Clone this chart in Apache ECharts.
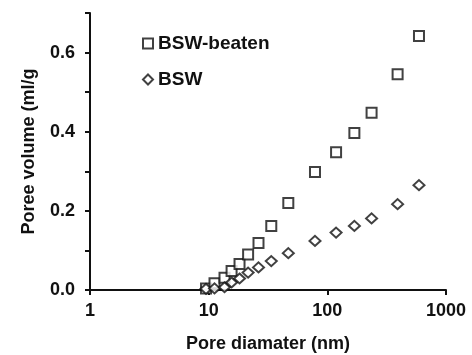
<!DOCTYPE html>
<html>
<head>
<meta charset="utf-8">
<script src="https://cdn.jsdelivr.net/npm/echarts@6/dist/echarts.min.js"></script>
<style>
  html, body { margin: 0; padding: 0; background: #fff; }
  #chart { width: 472px; height: 355px; }
</style>
</head>
<body>
<div id="chart"></div>
<script>
// pore diameter (nm), log scale
var diameters = [9.5, 11.2, 13.6, 15.6, 18.2, 21.5, 26.3, 33.7, 46.9, 78.7, 118.5, 169, 236, 391, 592];
// pore volume (ml/g)
var beaten = [0.004, 0.017, 0.031, 0.048, 0.066, 0.090, 0.119, 0.162, 0.220, 0.298, 0.348, 0.397, 0.448, 0.545, 0.642];
var bsw = [0.003, 0.004, 0.007, 0.019, 0.029, 0.044, 0.057, 0.073, 0.093, 0.124, 0.145, 0.162, 0.181, 0.217, 0.265];
var seriesNames = ['BSW-beaten', 'BSW'];

function pairs(xs, ys) {
  return xs.map(function (x, i) { return [x, ys[i]]; });
}

var font = 'Liberation Sans, Arial, sans-serif';
var ink = '#111';

var myChart = echarts.init(document.getElementById('chart'));
var option = {
  animation: false,
  backgroundColor: '#fff',
  grid: { left: 90, right: 26, top: 13, bottom: 65, outerBoundsMode: 'none', containLabel: false },
  legend: {
    orient: 'vertical',
    left: 137,
    top: 29,
    itemGap: 17,
    itemWidth: 10,
    itemHeight: 10,
    data: seriesNames,
    textStyle: { color: ink, fontFamily: font, fontSize: 19, fontWeight: 'bold', lineHeight: 18 }
  },
  xAxis: {
    type: 'log',
    logBase: 10,
    min: 1,
    max: 1000,
    name: 'Pore diamater (nm)',
    nameLocation: 'middle',
    nameGap: 45,
    nameTextStyle: { color: ink, fontFamily: font, fontSize: 18, fontWeight: 'bold' },
    axisLine: { lineStyle: { color: ink, width: 2 } },
    axisTick: { inside: false, length: 5, lineStyle: { width: 2 } },
    axisLabel: {
      color: ink, fontFamily: font, fontSize: 18, fontWeight: 'bold', margin: 12,
      formatter: function (v) { return String(Math.round(v)); }
    },
    splitLine: { show: false },
    minorTick: { show: false }
  },
  yAxis: {
    type: 'value',
    min: 0,
    max: 0.7,
    interval: 0.1,
    name: 'Poree volume (ml/g',
    nameLocation: 'middle',
    nameGap: 52,
    nameTextStyle: { color: ink, fontFamily: font, fontSize: 18, fontWeight: 'bold' },
    axisLine: { show: true, lineStyle: { color: ink, width: 2 } },
    axisTick: { show: true, length: 5, lineStyle: { width: 2 } },
    axisLabel: {
      color: ink, fontFamily: font, fontSize: 18, fontWeight: 'bold', margin: 15,
      formatter: function (v) {
        var k = Math.round(v * 10);
        return (k % 2 === 0 && k < 7) ? v.toFixed(1) : '';
      }
    },
    splitLine: { show: false }
  },
  series: [
    {
      name: seriesNames[0],
      type: 'scatter',
      symbol: 'emptyRect',
      symbolSize: 10,
      itemStyle: { color: ink, borderColor: ink, borderWidth: 1.8 },
      data: pairs(diameters, beaten)
    },
    {
      name: seriesNames[1],
      type: 'scatter',
      symbol: 'emptyDiamond',
      symbolSize: [11, 10],
      itemStyle: { color: ink, borderColor: ink, borderWidth: 1.8 },
      data: pairs(diameters, bsw)
    }
  ]
};
myChart.setOption(option);
window.addEventListener('resize', function () { myChart.resize(); });
</script>
</body>
</html>
